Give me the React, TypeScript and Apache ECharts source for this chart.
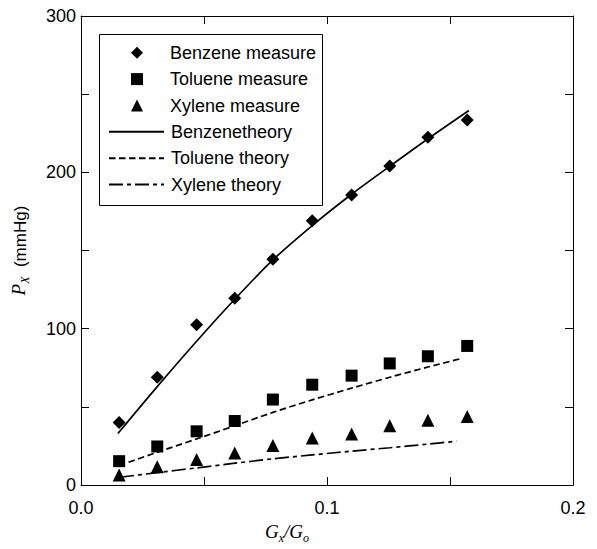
import React, { useEffect, useRef } from "react";
import * as echarts from "echarts";

const measureX = [0.0155, 0.031, 0.047, 0.0625, 0.078, 0.094, 0.11, 0.1255, 0.141, 0.157];
const benzeneMeasured = [40, 69, 102.5, 119.5, 144.5, 169, 185.5, 204, 222.5, 233.5];
const tolueneMeasured = [15.3, 24.7, 34.4, 41, 54.7, 64.2, 70, 77.8, 82.4, 89];
const xyleneMeasured = [6.5, 11.8, 16.4, 20.6, 25.4, 30.2, 32.7, 37.9, 41.5, 43.8];

const benzeneTheoryX = [0.015, 0.031, 0.047, 0.0626, 0.078, 0.094, 0.11, 0.1256, 0.1415, 0.1577];
const benzeneTheory = [33, 63, 92, 119, 144, 166, 186, 204, 222, 239.6];
const tolueneTheoryX = [0.0155, 0.031, 0.047, 0.0626, 0.078, 0.094, 0.11, 0.1256, 0.141, 0.1547];
const tolueneTheory = [12.5, 21, 29.5, 38, 46.5, 54.5, 62, 69, 75.5, 81];
const xyleneTheoryX = [0.0159, 0.031, 0.047, 0.0626, 0.078, 0.094, 0.11, 0.1256, 0.141, 0.1527];
const xyleneTheory = [5, 8, 11, 14, 16.8, 19.3, 21.7, 23.9, 26.2, 28.1];

const measureNames = ["Benzene measure", "Toluene measure", "Xylene measure"];
const theoryNames = ["Benzenetheory", "Toluene theory", "Xylene theory"];

const zip = (xs: number[], ys: number[]) => xs.map((x, i) => [x, ys[i]]);

const SANS = "'Liberation Sans', Arial, sans-serif";
const SERIF = "'Liberation Serif', 'Times New Roman', serif";

export default function App() {
  const ref = useRef<HTMLDivElement>(null);
  useEffect(() => {
    if (!ref.current) return;
    const chart = echarts.init(ref.current, undefined, { renderer: "svg" });
    const axisCommon = {
      type: "value" as const,
      axisLine: { show: true, onZero: false, lineStyle: { color: "#000", width: 1 } },
      axisTick: { show: true, inside: true, length: 8, lineStyle: { color: "#000", width: 1 } },
      splitLine: { show: false },
    };
    const legendText = { fontFamily: SANS, fontSize: 18, color: "#000", lineHeight: 26.4 };
    chart.setOption({
      animation: false,
      backgroundColor: "#fff",
      grid: { left: 81, top: 16, right: 24, bottom: 56.5, containLabel: false },
      xAxis: [
        {
          ...axisCommon,
          position: "bottom",
          min: 0,
          max: 0.2,
          interval: 0.05,
          axisLabel: {
            color: "#000",
            fontFamily: SANS,
            fontSize: 18,
            margin: 14,
            formatter: (v: number) =>
              Math.abs(v * 10 - Math.round(v * 10)) < 1e-6 ? v.toFixed(1) : "",
          },
          name: "{g|G}{s|x}{g|/G}{s|o}",
          nameLocation: "middle",
          nameGap: 35,
          nameTextStyle: {
            padding: [0, 80, 0, 0],
            rich: {
              g: { fontFamily: SERIF, fontStyle: "italic", fontSize: 19, color: "#000", verticalAlign: "top", lineHeight: 22 },
              s: { fontFamily: SERIF, fontStyle: "italic", fontSize: 12, color: "#000", verticalAlign: "bottom", lineHeight: 22, padding: [8, 0, 0, 0] },
            },
          },
        },
        {
          ...axisCommon,
          position: "top",
          min: 0,
          max: 0.2,
          interval: 0.05,
          axisLabel: { show: false },
        },
      ],
      yAxis: [
        {
          ...axisCommon,
          position: "left",
          min: 0,
          max: 300,
          interval: 50,
          axisLabel: {
            color: "#000",
            fontFamily: SANS,
            fontSize: 18,
            margin: 5,
            formatter: (v: number) => (v % 100 === 0 ? String(v) : ""),
          },
          name: "{p|P}{s|X}{m|  (mmHg)}",
          nameLocation: "middle",
          nameGap: 50,
          nameRotate: 90,
          nameTextStyle: {
            rich: {
              p: { fontFamily: SERIF, fontStyle: "italic", fontSize: 19, color: "#000", verticalAlign: "top", lineHeight: 22 },
              s: { fontFamily: SERIF, fontStyle: "italic", fontSize: 12, color: "#000", verticalAlign: "bottom", lineHeight: 22 },
              m: { fontFamily: SANS, fontSize: 17, color: "#000", lineHeight: 22 },
            },
          },
        },
        {
          ...axisCommon,
          position: "right",
          min: 0,
          max: 300,
          interval: 50,
          axisLabel: { show: false },
        },
      ],
      legend: [
        {
          data: measureNames,
          orient: "vertical",
          left: 131,
          top: 39.5,
          padding: 0,
          itemGap: 0,
          itemWidth: 12,
          itemHeight: 12,
          symbolKeepAspect: true,
          textStyle: { ...legendText, padding: [0, 0, 0, 22] },
          selectedMode: false,
        },
        {
          data: theoryNames.map((name) => ({
            name,
            itemStyle: { color: "rgba(0,0,0,0)", borderColor: "rgba(0,0,0,0)", borderWidth: 0, opacity: 0 },
          })),
          orient: "vertical",
          left: 108,
          top: 118.6,
          padding: 0,
          itemGap: 0,
          itemWidth: 55,
          itemHeight: 12,
          textStyle: { ...legendText, padding: [0, 0, 0, 2] },
          selectedMode: false,
        },
      ],
      graphic: [
        {
          type: "rect",
          shape: { x: 99.5, y: 34.5, width: 223, height: 171 },
          style: { fill: "none", stroke: "#000", lineWidth: 1 },
          z: 10,
        },
      ],
      series: [
        {
          name: measureNames[0],
          type: "scatter",
          symbol: "diamond",
          symbolSize: 13,
          itemStyle: { color: "#000", opacity: 1 },
          data: zip(measureX, benzeneMeasured),
        },
        {
          name: measureNames[1],
          type: "scatter",
          symbol: "rect",
          symbolSize: 12,
          itemStyle: { color: "#000", opacity: 1 },
          data: zip(measureX, tolueneMeasured),
        },
        {
          name: measureNames[2],
          type: "scatter",
          symbol: "triangle",
          symbolSize: 13,
          itemStyle: { color: "#000", opacity: 1 },
          data: zip(measureX, xyleneMeasured),
        },
        {
          name: theoryNames[0],
          type: "line",
          symbol: "none",
          smooth: 0.3,
          lineStyle: { color: "#000", width: 1.7, type: "solid" },
          itemStyle: { color: "#000" },
          data: zip(benzeneTheoryX, benzeneTheory),
        },
        {
          name: theoryNames[1],
          type: "line",
          symbol: "none",
          smooth: 0.3,
          lineStyle: { color: "#000", width: 1.7, type: [6.5, 3.5] },
          itemStyle: { color: "#000" },
          data: zip(tolueneTheoryX, tolueneTheory),
        },
        {
          name: theoryNames[2],
          type: "line",
          symbol: "none",
          smooth: 0.3,
          lineStyle: { color: "#000", width: 1.7, type: [14, 4, 4, 4] },
          itemStyle: { color: "#000" },
          data: zip(xyleneTheoryX, xyleneTheory),
        },
      ],
    });
    return () => chart.dispose();
  }, []);
  return (
    <div
      ref={ref}
      style={{ position: "fixed", left: 0, top: 0, width: 597, height: 549, background: "#fff" }}
    />
  );
}
